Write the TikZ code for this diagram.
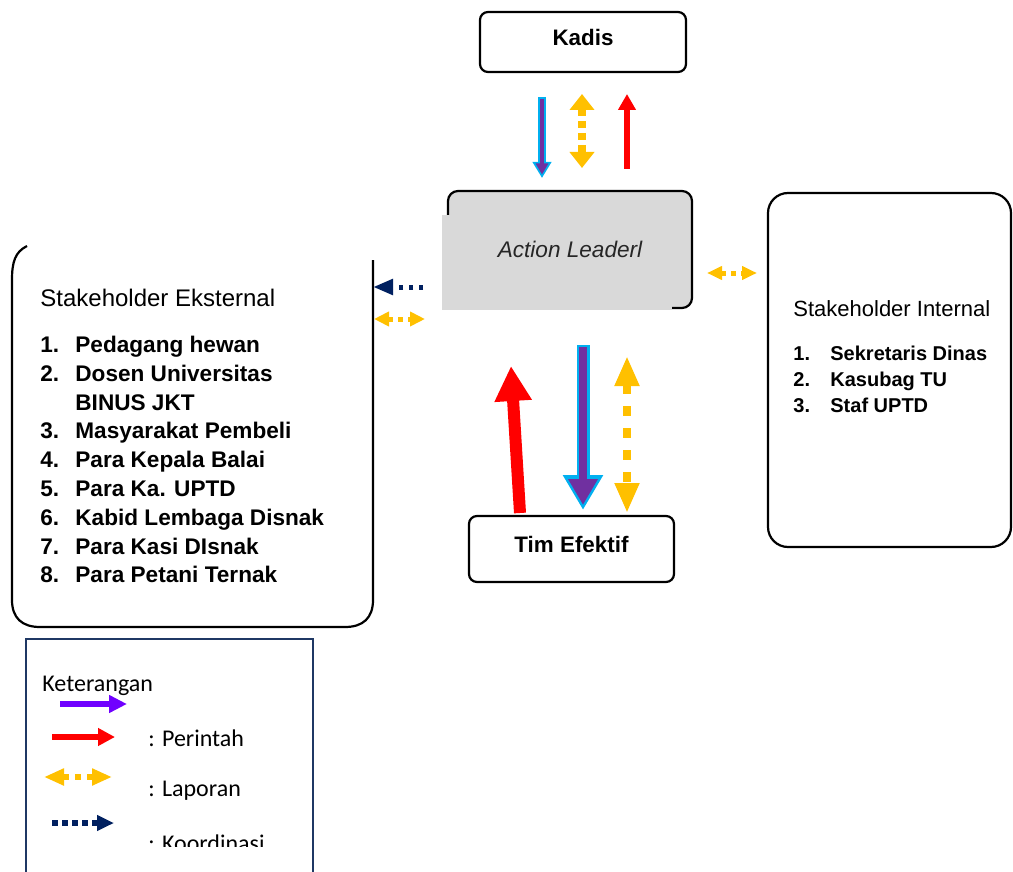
\documentclass[tikz,border=0pt]{standalone}
\usepackage{fontspec}
\usepackage{array}
\setmainfont{Liberation Sans}
\newfontfamily\legendfont{Carlito}
\usetikzlibrary{arrows.meta,calc}
\definecolor{kuning}{HTML}{FFC000}
\definecolor{navy}{HTML}{002060}
\definecolor{ungu}{HTML}{7030A0}
\definecolor{biru}{HTML}{00B0F0}
\definecolor{ungumuda}{HTML}{7000FF}
\definecolor{abu}{HTML}{D9D9D9}
\definecolor{garis}{HTML}{1F3864}

\begin{document}
\begin{tikzpicture}[x=0.5pt,y=-0.5pt,
		kotak/.style={draw=black,line width=1.1pt,rounded corners=4pt},
		judul/.style={font=\bfseries\fontsize{11.2}{13}\selectfont},
		perintah/.style={draw=red},
		lapor/.style={draw=kuning,kuning},
		koord/.style={draw=navy,navy},
		ket/.style={anchor=west,inner sep=0pt,font=\legendfont\fontsize{12}{14}\selectfont}]
	%%%%% START %%%%%
	\useasboundingbox (0,0) rectangle (1013,872);
	\clip (0,0) rectangle (1013,872);
	
	% kotak utama
	\node[kotak,judul,minimum width=103pt,minimum height=30pt,text depth=5pt] (kadis) at (583,42) {Kadis};
	\node[kotak,rounded corners=5pt,fill=abu,minimum width=122pt,minimum height=58.5pt] (leader) at (570,249.5) {};
	\fill[abu] (442,215) rectangle (672,310);
	\node[font=\itshape\fontsize{11.3}{13}\selectfont,text=black!85] (leadertext) at (leader.center) {Action Leaderl};
	\node[kotak,judul,minimum width=102.5pt,minimum height=33pt,text depth=5pt] (tim) at (571.5,549) {Tim Efektif};
	
	% stakeholder internal
	\draw[kotak,rounded corners=10pt] (768,193) rectangle (1011,547);
	\node[anchor=base west,inner sep=0pt,font=\fontsize{11}{13}\selectfont] (internal) at (793,316) {%
		\begin{tabular}[t]{@{}>{\bfseries\fontsize{10}{13}\selectfont}p{18.5pt}@{}>{\bfseries\fontsize{10}{13}\selectfont}l@{}}
			\multicolumn{2}{@{}l@{}}{Stakeholder Internal}\\[9pt]
			1. & Sekretaris Dinas\\
			2. & Kasubag TU\\
			3. & Staf UPTD
		\end{tabular}};
	
	% stakeholder eksternal
	\draw[line width=1.1pt] (27,246) .. controls (15,252) and (12,262) .. (12,280) -- (12,600)
		.. controls (12,618) and (22,627) .. (40,627) -- (345,627)
		.. controls (363,627) and (373,618) .. (373,600) -- (373,260);
	\node[anchor=base west,inner sep=0pt,font=\fontsize{12}{14.4}\selectfont] (eksternal) at (40,306.5) {%
		\begin{tabular}[t]{@{}>{\bfseries\fontsize{11.3}{14.4}\selectfont}p{17.5pt}@{}>{\bfseries\fontsize{11.3}{14.4}\selectfont}l@{}}
			\multicolumn{2}{@{}l@{}}{Stakeholder Eksternal}\\[8.6pt]
			1. & Pedagang hewan\\
			2. & Dosen Universitas\\
			   & BINUS JKT\\
			3. & Masyarakat Pembeli\\
			4. & Para Kepala Balai\\
			5. & Para Ka. UPTD\\
			6. & Kabid Lembaga Disnak\\
			7. & Para Kasi DIsnak\\
			8. & Para Petani Ternak
		\end{tabular}};
	
	% panah kadis - leader
	\coordinate (a1) at (542,97);   \coordinate (a2) at (542,178);
	\coordinate (b1) at (582,94);   \coordinate (b2) at (582,168);
	\coordinate (c1) at (627,169);  \coordinate (c2) at (627,94);
	\draw[biru,line width=4pt,-{Triangle[width=9pt,length=8pt]}] (a1) -- (a2);
	\draw[ungu,line width=2.2pt,-{Triangle[width=6pt,length=5.5pt]}] ($(a1)+(0,2)$) -- ($(a2)+(0,-3.5)$);
	\draw[lapor,line width=4pt,dash pattern=on 3.5pt off 2.5pt,{Triangle[width=12pt,length=8pt]}-{Triangle[width=12pt,length=8pt]}] (b1) -- (b2);
	\draw[perintah,line width=3pt,-{Triangle[width=8.5pt,length=8pt]}] (c1) -- (c2);
	
	% panah samping
	\coordinate (d1) at (707,273);  \coordinate (d2) at (757,273);
	\coordinate (e1) at (423,287);  \coordinate (e2) at (373,287);
	\coordinate (f1) at (374,319);  \coordinate (f2) at (425,319);
	\draw[lapor,line width=2.5pt,dash pattern=on 2.5pt off 2.5pt,{Triangle[width=6.5pt,length=7.5pt]}-{Triangle[width=6.5pt,length=7.5pt]}] (d1) -- (d2);
	\draw[koord,line width=2.5pt,dash pattern=on 2pt off 3pt,-{Triangle[width=7.5pt,length=10pt]}] (e1) -- (e2);
	\draw[lapor,line width=2.5pt,dash pattern=on 2.5pt off 2.5pt,{Triangle[width=7pt,length=7.5pt]}-{Triangle[width=7pt,length=7.5pt]}] (f1) -- (f2);
	
	% panah leader - tim
	\coordinate (g1) at (520,513);  \coordinate (g2) at (511,366);
	\coordinate (h1) at (583,345);  \coordinate (h2) at (583,510);
	\coordinate (i1) at (627,356);  \coordinate (i2) at (627,513);
	\draw[perintah,line width=6pt,-{Triangle[width=17.5pt,length=17.5pt]}] (g1) -- (g2);
	\draw[biru,line width=6.5pt,-{Triangle[width=19pt,length=17.5pt]}] (h1) -- (h2);
	\draw[ungu,line width=4.3pt,-{Triangle[width=14pt,length=13pt]}] ($(h1)+(0,2)$) -- ($(h2)+(0,-5)$);
	\draw[lapor,line width=4pt,dash pattern=on 5pt off 6pt,{Triangle[width=11.5pt,length=15pt]}-{Triangle[width=11.5pt,length=15pt]}] (i1) -- (i2);
	
	% keterangan
	\draw[garis,line width=1pt] (26,639) rectangle (313,890);
	\node[ket] (keterangan) at (42,686) {Keterangan};
	\coordinate (j1) at (60,704);   \coordinate (j2) at (127,704);
	\coordinate (k1) at (52,737);   \coordinate (k2) at (115,737);
	\coordinate (l1) at (44,777);   \coordinate (l2) at (112,777);
	\coordinate (m1) at (52,823);   \coordinate (m2) at (114,823);
	\draw[ungumuda,line width=3pt,-{Triangle[width=8.5pt,length=9pt]}] (j1) -- (j2);
	\draw[perintah,line width=3pt,-{Triangle[width=8.5pt,length=8.5pt]}] (k1) -- (k2);
	\draw[lapor,line width=3pt,dash pattern=on 3pt off 3pt,{Triangle[width=8pt,length=10pt]}-{Triangle[width=8pt,length=10pt]}] (l1) -- (l2);
	\draw[koord,line width=3pt,dash pattern=on 3pt off 2pt,-{Triangle[width=7.5pt,length=8.5pt]}] (m1) -- (m2);
	\node[ket] (perintah) at (148,738) {: Perintah};
	\node[ket] (laporan) at (148,791) {: Laporan};
	\begin{scope}
		\clip (26,639) rectangle (313,846);
		\node[ket] (koordinasi) at (148,843) {: Koordinasi};
	\end{scope}
	%%%%% END %%%%%
\end{tikzpicture}
\end{document}
